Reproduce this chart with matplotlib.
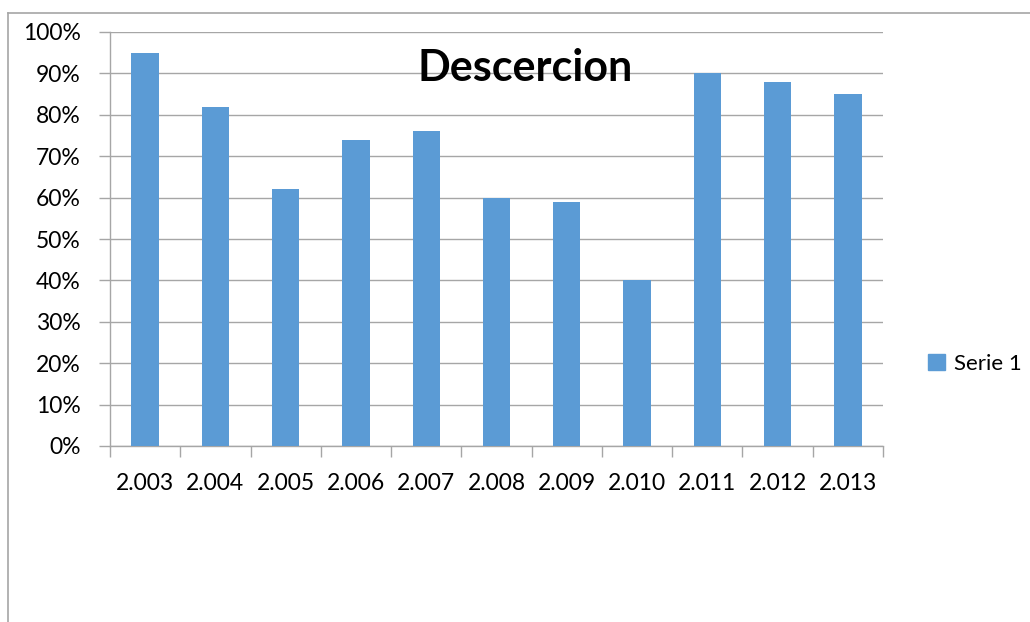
import numpy as np
import matplotlib
matplotlib.use("Agg")
from matplotlib import pyplot as plt
from matplotlib.lines import Line2D
from matplotlib.patches import Patch

years = ["2.003", "2.004", "2.005", "2.006", "2.007", "2.008",
         "2.009", "2.010", "2.011", "2.012", "2.013"]
serie1 = [95, 82, 62, 74, 76, 60, 59, 40, 90, 88, 85]
yticks = [0, 10, 20, 30, 40, 50, 60, 70, 80, 90, 100]

plt.rcParams["font.family"] = ["Lato", "DejaVu Sans"]

W, H = 1030, 622
fig = plt.figure(figsize=(W / 100, H / 100), dpi=100)
ax = fig.add_axes([110 / W, (H - 446) / H, (883 - 110) / W, (446 - 32) / H])

grey = "#A6A6A6"
blue = "#5B9BD5"

x = np.arange(len(years))
ax.bar(x, serie1, width=0.39, color=blue, zorder=3)

ax.set_xlim(-0.5, len(years) - 0.5)
ax.set_ylim(0, 100)
ax.set_yticks(yticks)
ax.set_yticklabels([f"{v}%" for v in yticks])
ax.set_xticks(x)
ax.set_xticklabels(years)
ax.set_xticks(np.arange(-0.5, len(years)), minor=True)

ax.tick_params(axis="x", which="major", length=0, pad=19.5, labelsize=16.5)
ax.tick_params(axis="x", which="minor", length=8, width=1, color=grey, direction="out")
ax.tick_params(axis="y", length=8, width=1, color=grey, direction="out", pad=13, labelsize=16.5)

ax.yaxis.grid(True, color=grey, linewidth=1, zorder=0)
ax.set_axisbelow(True)
for s in ["top", "right"]:
    ax.spines[s].set_visible(False)
for s in ["left", "bottom"]:
    ax.spines[s].set_color(grey)
    ax.spines[s].set_linewidth(1)

ax.text(0.537, 0.912, "Descercion", transform=ax.transAxes, ha="center", va="center",
        fontsize=31, fontweight="bold", zorder=4)

fig.legend(handles=[Patch(color=blue, label="Serie 1")], loc="center left",
           bbox_to_anchor=(908 / W, (H - 364) / H), frameon=False,
           fontsize=16, handlelength=0.75, handleheight=0.75, handletextpad=0.4)

# outer chart frame (only left and top edges visible)
fig.add_artist(Line2D([8 / W, 8 / W], [0, (H - 13) / H], color=grey, linewidth=1.2))
fig.add_artist(Line2D([8 / W, 1], [(H - 13) / H, (H - 13) / H], color=grey, linewidth=1.2))

fig.savefig("out.png", dpi=100)
